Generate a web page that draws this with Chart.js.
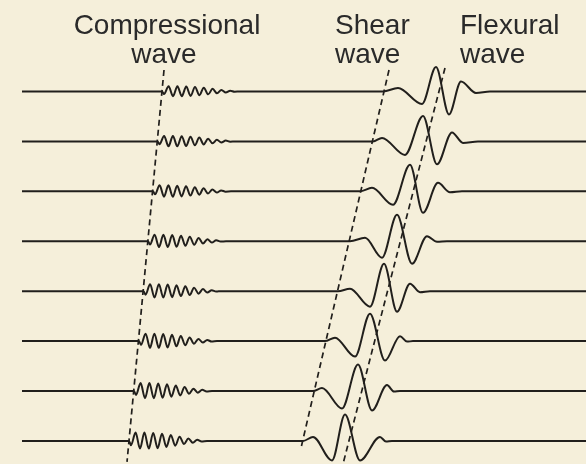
<!DOCTYPE html>
<html>
<head>
<meta charset="utf-8">
<script src="https://cdn.jsdelivr.net/npm/chart.js@4"></script>
<style>
  html, body { margin: 0; padding: 0; background: #f5efda; }
  #wrap { position: relative; width: 586px; height: 464px; background: #f5efda; overflow: hidden; }
  #wrap canvas { position: absolute; left: 0; top: 0; }
  .lbl { position: absolute; font-family: "Liberation Sans", Arial, sans-serif; font-size: 28px; line-height: 28px; color: #2a2a2a; white-space: nowrap; }
  .ctr { width: 240px; text-align: center; }
</style>
</head>
<body>
<div id="wrap">
  <canvas id="waveChart" width="586" height="464"></canvas>
  <div class="lbl ctr" style="left:47px; top:11px;">Compressional</div>
  <div class="lbl ctr" style="left:44px; top:40px;">wave</div>
  <div class="lbl" style="left:335px; top:11px;">Shear</div>
  <div class="lbl" style="left:335px; top:40px;">wave</div>
  <div class="lbl" style="left:460px; top:11px;">Flexural</div>
  <div class="lbl" style="left:460px; top:40px;">wave</div>
</div>
<script>
// time axis in ms, amplitude in units of trace spacing
const traceStart = 0.22;
const traceEnd = 5.86;
const traceShift = [7, 6, 5, 4, 3, 2, 1, 0];

// compressional arrival and amplitude per receiver (top to bottom)
const pArrival = [1.62, 1.575, 1.53, 1.48, 1.435, 1.39, 1.34, 1.29];
const pGain = [0.105, 0.11, 0.12, 0.13, 0.14, 0.15, 0.16, 0.17];

// compressional wavelet (offset from arrival, relative amplitude)
const pShapeT = [0, 0.02, 0.066, 0.11, 0.154, 0.198, 0.242, 0.286, 0.33, 0.374, 0.418, 0.462, 0.506, 0.55, 0.594, 0.638, 0.682, 0.726, 0.78];
const pShapeA = [0, -0.5, 1, -0.9, 1, -0.9, 0.95, -0.85, 0.85, -0.7, 0.7, -0.55, 0.5, -0.35, 0.3, -0.2, 0.15, -0.05, 0];

// shear + flexural arrivals, read per trace
const sTimes = [
    [3.83, 3.98, 4.22, 4.36, 4.49, 4.61, 4.76, 4.90],
    [3.73, 3.82, 4.05, 4.23, 4.37, 4.52, 4.63, 4.78],
    [3.60, 3.72, 3.93, 4.10, 4.23, 4.38, 4.50, 4.62],
    [3.50, 3.65, 3.82, 3.97, 4.12, 4.27, 4.37, 4.47],
    [3.38, 3.50, 3.70, 3.84, 3.97, 4.10, 4.20, 4.30],
    [3.25, 3.35, 3.55, 3.70, 3.85, 4.00, 4.07, 4.13],
    [3.13, 3.22, 3.42, 3.58, 3.72, 3.87, 3.94, 4.00],
    [3.03, 3.13, 3.32, 3.45, 3.60, 3.80, 3.86, 3.92]
];
const sAmps = [
    [0, 0.07, -0.25, 0.49, -0.46, 0.2, -0.03, 0],
    [0, 0.07, -0.27, 0.51, -0.46, 0.18, -0.03, 0],
    [0, 0.07, -0.27, 0.53, -0.43, 0.17, -0.02, 0],
    [0, 0.07, -0.33, 0.53, -0.45, 0.1, -0.01, 0],
    [0, 0.05, -0.31, 0.55, -0.41, 0.15, -0.02, 0],
    [0, 0.07, -0.31, 0.55, -0.39, 0.1, -0.01, 0],
    [0, 0.06, -0.35, 0.53, -0.39, 0.12, -0.01, 0],
    [0, 0.08, -0.39, 0.53, -0.39, 0.08, -0.01, 0]
];

// moveout picks (dashed lines): [top, bottom]
const compPickX = [1.64, 1.27];
const compPickY = [7.43, -0.42];
const shearPickX = [3.89, 3.01];
const shearPickY = [7.43, -0.14];
const flexPickX = [4.45, 3.43];
const flexPickY = [7.47, -0.46];

const ink = '#211f1c';

function buildTrace(k) {
    const base = traceShift[k];
    const pts = [{ x: traceStart, y: base }];
    pShapeT.forEach((t, i) => pts.push({ x: pArrival[k] + t, y: base + pGain[k] * pShapeA[i] }));
    sTimes[k].forEach((t, i) => pts.push({ x: t, y: base + sAmps[k][i] }));
    pts.push({ x: traceEnd, y: base });
    return pts;
}

function pickLine(xs, ys) {
    return {
        data: xs.map((x, i) => ({ x: x, y: ys[i] })),
        borderColor: ink,
        borderWidth: 1.7,
        borderDash: [6, 4],
        pointRadius: 0,
        tension: 0
    };
}

const datasets = traceShift.map((s, k) => ({
    data: buildTrace(k),
    borderColor: ink,
    borderWidth: 2,
    pointRadius: 0,
    cubicInterpolationMode: 'monotone'
}));
datasets.push(pickLine(compPickX, compPickY));
datasets.push(pickLine(shearPickX, shearPickY));
datasets.push(pickLine(flexPickX, flexPickY));

new Chart(document.getElementById('waveChart').getContext('2d'), {
    type: 'line',
    data: { datasets: datasets },
    options: {
        responsive: false,
        animation: false,
        events: [],
        layout: { padding: 0 },
        plugins: { legend: { display: false }, tooltip: { enabled: false } },
        scales: {
            x: { type: 'linear', min: 0, max: 5.86, display: false },
            y: { type: 'linear', min: -0.461, max: 8.832, display: false }
        }
    }
});
</script>
</body>
</html>
